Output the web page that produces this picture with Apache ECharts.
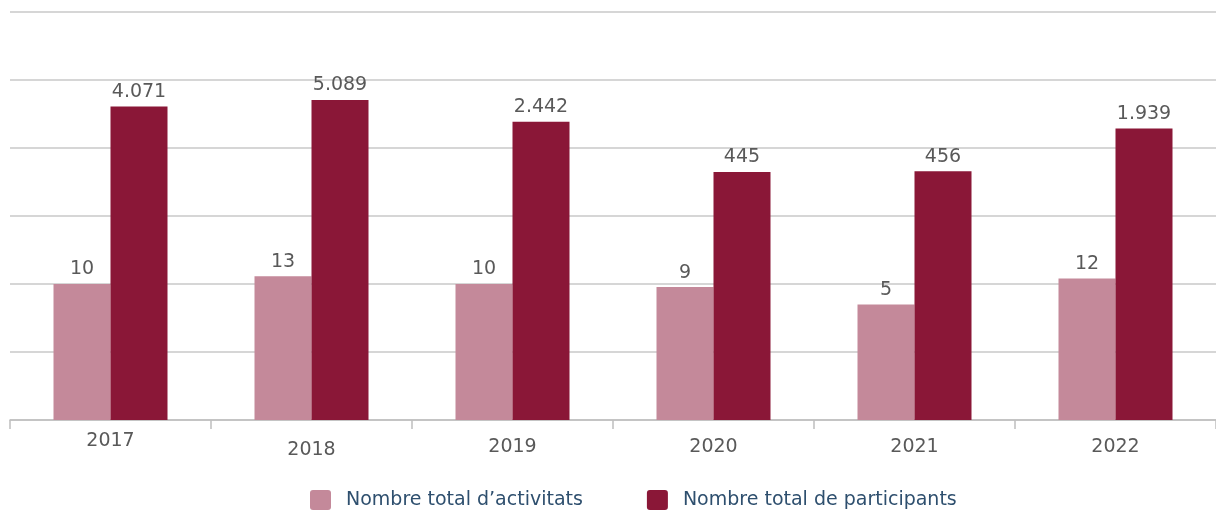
<!DOCTYPE html>
<html>
<head>
<meta charset="utf-8">
<script src="https://cdn.jsdelivr.net/npm/echarts@6/dist/echarts.min.js"></script>
<style>
html, body { margin: 0; padding: 0; background: #fff; }
#chart { width: 1216px; height: 513px; }
</style>
</head>
<body>
	<div id="chart"></div>
	<script type="text/javascript">
		var years = ['2017', '2018', '2019', '2020', '2021', '2022'];
		var activitats = [10, 13, 10, 9, 5, 12];
		var participants = [4071, 5089, 2442, 445, 456, 1939];
		var seriesNames = ['Nombre total d\u2019activitats', 'Nombre total de participants'];

		var colors = ['#c4899a', '#8a1737'];
		var font = '"DejaVu Sans", sans-serif';

		// thousands with a dot, as in the original
		function fmt(p) {
			return String(p.value).replace(/\B(?=(\d{3})+(?!\d))/g, '.');
		}

		var myChart = echarts.init(document.getElementById('chart'));

		var option = {
			color: colors,
			animation: false,
			textStyle: { fontFamily: font },
			grid: { left: 10, top: 12, width: 1209, height: 408 },
			legend: {
				bottom: -2,
				left: 305,
				itemWidth: 21,
				itemHeight: 20,
				itemGap: 64,
				icon: 'path://M3,0H18Q21,0 21,3V17Q21,20 18,20H3Q0,20 0,17V3Q0,0 3,0Z',
				textStyle: { color: '#2e4f6e', fontSize: 19, fontFamily: font, padding: [0, 0, 0, 10] },
				data: seriesNames
			},
			xAxis: {
				type: 'category',
				data: years,
				axisLine: { lineStyle: { color: '#bfbfbf', width: 1.5 } },
				axisTick: { show: true, length: 9, lineStyle: { color: '#bfbfbf', width: 1.5 } },
				axisLabel: {
					margin: 12,
					color: '#595959',
					fontSize: 19,
					fontFamily: font,
					formatter: function (v, i) {
						if (i === 0) return '{a|' + v + '}';
						if (i === 1) return '{c|' + v + '}';
						return '{b|' + v + '}';
					},
					rich: {
						a: { color: '#595959', fontSize: 19, fontFamily: font, padding: [0, 0, 0, 0] },
						b: { color: '#595959', fontSize: 19, fontFamily: font, padding: [6, 0, 0, 0] },
						c: { color: '#595959', fontSize: 19, fontFamily: font, padding: [9, 0, 0, 0] }
					}
				}
			},
			yAxis: {
				type: 'log',
				logBase: 10,
				min: 0.1,
				max: 100000,
				interval: 1,
				startValue: 0.1,
				axisLine: { show: false },
				axisTick: { show: false },
				axisLabel: { show: false },
				splitLine: { lineStyle: { color: '#c8c8c8', width: 1.5 } }
			},
			series: [
				{
					name: seriesNames[0],
					type: 'bar',
					barWidth: 57,
					barGap: '0%',
					data: activitats,
					label: { show: true, position: 'top', distance: 5, color: '#595959', fontSize: 19, fontFamily: font, formatter: fmt }
				},
				{
					name: seriesNames[1],
					type: 'bar',
					barWidth: 57,
					barGap: '0%',
					data: participants,
					label: { show: true, position: 'top', distance: 5, color: '#595959', fontSize: 19, fontFamily: font, formatter: fmt }
				}
			]
		};
		myChart.setOption(option, true);
	</script>
</body>
</html>
